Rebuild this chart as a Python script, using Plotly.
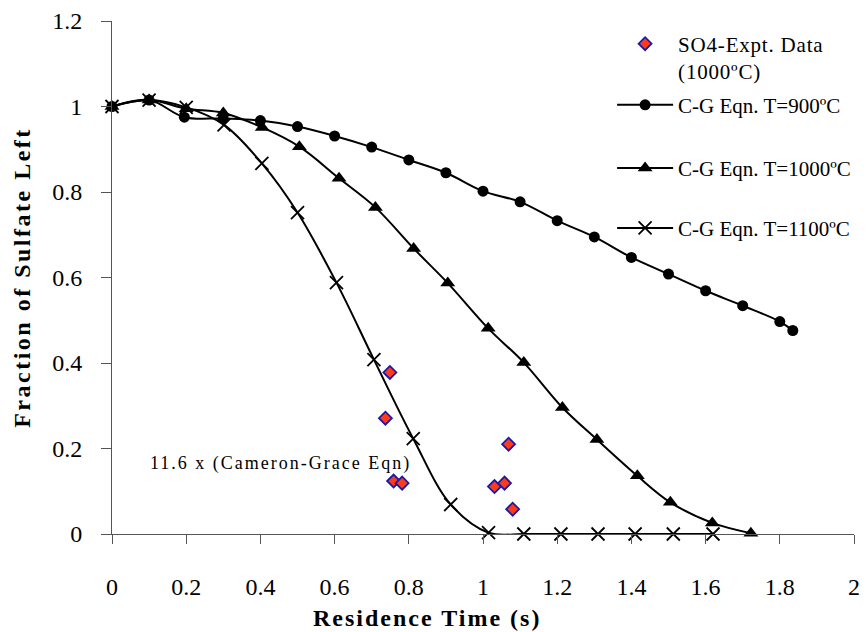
import plotly.graph_objects as go

# Residence time (s) and fraction of sulfate left for each model temperature
t_900 = [0, 0.10, 0.195, 0.30, 0.40, 0.50, 0.60, 0.70, 0.80, 0.90, 1.00, 1.10,
         1.20, 1.30, 1.40, 1.50, 1.60, 1.70, 1.80, 1.835]
f_900 = [1.0, 1.015, 0.975, 0.972, 0.967, 0.953, 0.931, 0.905, 0.875, 0.845, 0.802,
         0.777, 0.733, 0.695, 0.647, 0.608, 0.569, 0.534, 0.497, 0.476]

t_1000 = [0, 0.10, 0.20, 0.30, 0.405, 0.505, 0.612, 0.71, 0.813, 0.905, 1.014, 1.11,
          1.214, 1.307, 1.416, 1.505, 1.618, 1.722]
f_1000 = [1.0, 1.015, 0.995, 0.985, 0.951, 0.906, 0.832, 0.764, 0.668, 0.587, 0.481,
          0.401, 0.296, 0.221, 0.136, 0.074, 0.026, 0.002]

t_1100 = [0, 0.10, 0.20, 0.302, 0.404, 0.50, 0.605, 0.706, 0.812, 0.913, 1.015, 1.11,
          1.21, 1.31, 1.41, 1.513, 1.62]
f_1100 = [1.0, 1.015, 0.998, 0.957, 0.867, 0.752, 0.588, 0.408, 0.223, 0.069, 0.003,
          0, 0, 0, 0, 0, 0]

# Experimental SO4 data at 1000 °C
t_expt = [0.737, 0.749, 0.759, 0.782, 1.031, 1.058, 1.069, 1.080]
f_expt = [0.271, 0.378, 0.124, 0.119, 0.111, 0.119, 0.210, 0.058]

names = ["SO4-Expt. Data<br>(1000ºC)", "C-G Eqn. T=900ºC",
         "C-G Eqn. T=1000ºC", "C-G Eqn. T=1100ºC"]

SERIF = "Liberation Serif, Times New Roman, serif"
line_style = dict(color="black", width=2, shape="spline", smoothing=1)

fig = go.Figure()
fig.add_trace(go.Scatter(
    x=t_expt, y=f_expt, mode="markers", name=names[0], legend="legend",
    showlegend=True,
    marker=dict(symbol="diamond", size=10, color="#ff3a1a",
                line=dict(color="#1a1aa8", width=1.8)),
    cliponaxis=False))
fig.add_trace(go.Scatter(
    x=t_900, y=f_900, mode="lines+markers", name=names[1], legend="legend2",
    showlegend=True,
    line=line_style, marker=dict(symbol="circle", size=11, color="black"),
    cliponaxis=False))
fig.add_trace(go.Scatter(
    x=t_1000, y=f_1000, mode="lines+markers", name=names[2], legend="legend3",
    showlegend=True,
    line=line_style, marker=dict(symbol="triangle-up", size=13, color="black"),
    cliponaxis=False))
fig.add_trace(go.Scatter(
    x=t_1100, y=f_1100, mode="lines+markers", name=names[3], legend="legend4",
    showlegend=True,
    line=line_style,
    marker=dict(symbol="x-thin", size=13, color="black",
                line=dict(color="black", width=1.8)),
    cliponaxis=False))

legend_common = dict(font=dict(family=SERIF, size=21, color="black"),
                     bgcolor="rgba(0,0,0,0)", borderwidth=0, itemwidth=56,
                     xanchor="left", x=0.674)

fig.update_layout(
    width=868, height=632,
    margin=dict(l=112, r=8, t=21, b=98),
    paper_bgcolor="white", plot_bgcolor="white",
    font=dict(family=SERIF, color="black"),
    showlegend=True,
    legend=dict(**legend_common, y=0.995, yanchor="top", valign="top"),
    legend2=dict(**legend_common, y=0.836, yanchor="middle"),
    legend3=dict(**legend_common, y=0.713, yanchor="middle"),
    legend4=dict(**legend_common, y=0.596, yanchor="middle"),
    xaxis=dict(range=[0, 2], dtick=0.2, tick0=0, showgrid=False, zeroline=False,
               showline=True, linecolor="#555", linewidth=1,
               ticks="outside", ticklen=9, tickcolor="#555",
               ticklabelstandoff=22,
               tickfont=dict(family=SERIF, size=24, color="black")),
    yaxis=dict(range=[0, 1.2], dtick=0.2, tick0=0, showgrid=False, zeroline=False,
               showline=True, linecolor="#555", linewidth=1,
               ticks="outside", ticklen=10, tickcolor="#555",
               ticklabelstandoff=14,
               tickfont=dict(family=SERIF, size=24, color="black"),
               title=dict(text="<b>Fraction of Sulfate Left</b>", standoff=14,
                          font=dict(family=SERIF, size=24, color="black"))),
    annotations=[
        dict(text="11.6 x (Cameron-Grace Eqn)", x=0.455, y=0.164, xref="x", yref="y",
             xanchor="center", yanchor="middle", showarrow=False,
             font=dict(family=SERIF, size=18, color="black")),
        dict(text="<b>Residence Time (s)</b>", x=0.424, y=-0.164,
             xref="paper", yref="paper", xanchor="center", yanchor="middle",
             showarrow=False, font=dict(family=SERIF, size=24, color="black")),
    ],
)

# Widen the character spacing of the titles, legend and note text through a
# stylesheet (so redraws keep it), and let legend labels run past their boxes
spacing_js = """
var css = document.createElement('style');
css.textContent =
  '.ytitle { letter-spacing: 2.5px; }' +
  '.legendtext { letter-spacing: 0.8px; }' +
  '.annotation-text { letter-spacing: 2px; }' +
  '.legend .scrollbox, .legend { clip-path: none !important; }';
document.head.appendChild(css);
var gd = document.getElementById('{plot_id}');
gd.querySelectorAll('.legend, .legend *').forEach(function(el) {
  el.removeAttribute('clip-path');
});
"""

fig.write_html("out.html", post_script=spacing_js)
